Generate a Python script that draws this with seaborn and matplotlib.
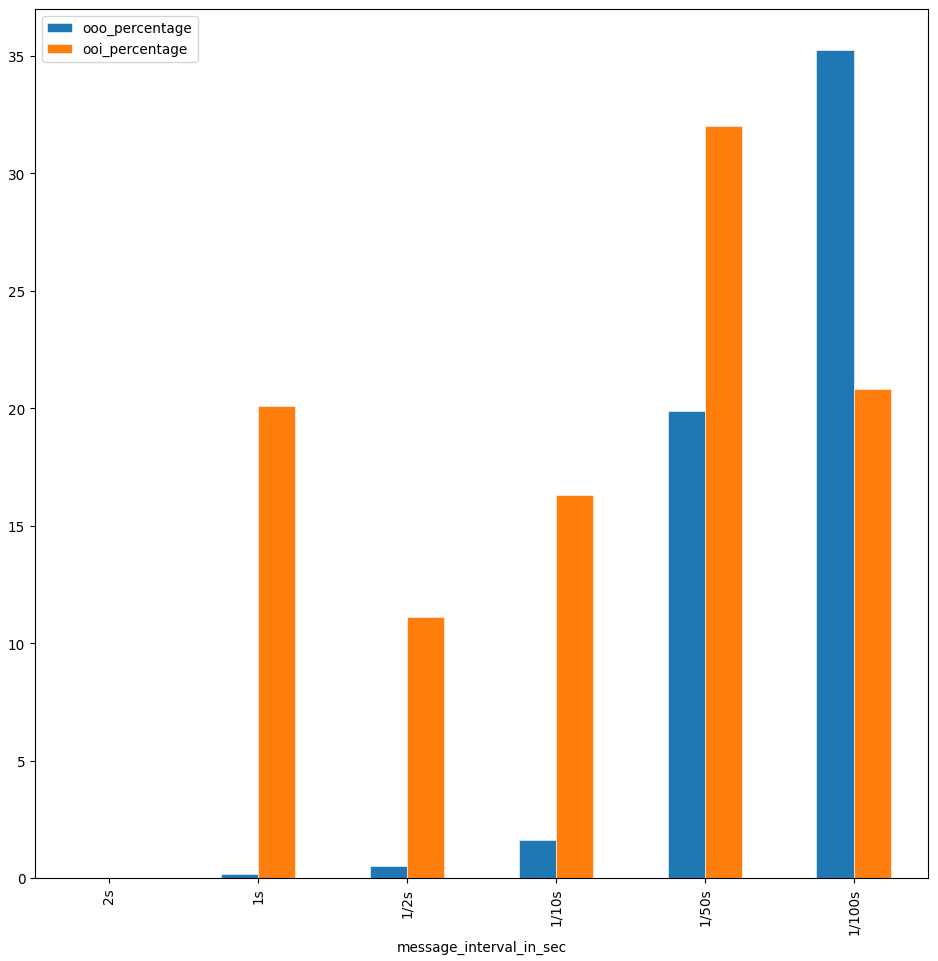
import matplotlib
matplotlib.use("Agg")
import matplotlib.pyplot as plt
import seaborn as sns
import pandas as pd

categories = ["2s", "1s", "1/2s", "1/10s", "1/50s", "1/100s"]
ooo_percentage = [0.0, 0.15, 0.51, 1.62, 19.86, 35.22]
ooi_percentage = [0.0, 20.08, 11.10, 16.29, 31.99, 20.80]

df = pd.DataFrame({
    "message_interval_in_sec": categories * 2,
    "value": ooo_percentage + ooi_percentage,
    "series": ["ooo_percentage"] * len(categories) + ["ooi_percentage"] * len(categories),
})

plt.rcParams["font.size"] = 9.8
fig = plt.figure(figsize=(9.38, 9.62), dpi=100)
ax = fig.add_axes([35 / 938, 83 / 962, 893 / 938, 869 / 962])
sns.barplot(data=df, x="message_interval_in_sec", y="value", hue="series",
            order=categories, hue_order=["ooo_percentage", "ooi_percentage"],
            palette=["#1f77b4", "#ff7f0e"], width=0.5, gap=0,
            edgecolor="white", linewidth=0.4, saturation=1, ax=ax, errorbar=None)
ax.set_xlim(-0.5, 5.5)
ax.set_ylim(0, 36.98)
ax.set_ylabel("")
ax.set_xlabel("message_interval_in_sec")
ax.tick_params(axis="x", rotation=90)
ax.legend(loc="upper left", title=None, handlelength=1.8)
fig.savefig("out.png", dpi=100)
